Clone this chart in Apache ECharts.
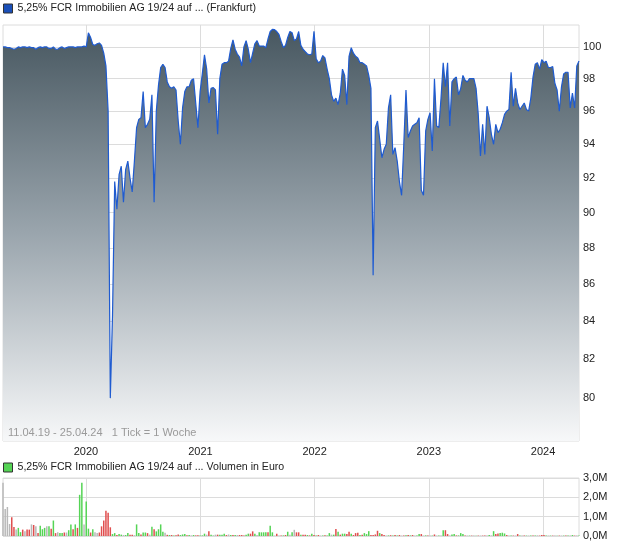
<!DOCTYPE html>
<html><head><meta charset="utf-8">
<script src="https://cdn.jsdelivr.net/npm/echarts@6/dist/echarts.min.js"></script>
<style>html,body{margin:0;padding:0;background:#fff}#c{width:620px;height:546px}</style>
</head><body><div id="c"></div>
<script>
const priceSeriesName = '5,25% FCR Immobilien AG 19/24 auf ... (Frankfurt)';
const volumeSeriesName = '5,25% FCR Immobilien AG 19/24 auf ... Volumen in Euro';
const noteText = '11.04.19 - 25.04.24   1 Tick = 1 Woche';
const startDate = [2019, 3, 11];
const endDate = [2024, 3, 25];
const yearTicks = [2020, 2021, 2022, 2023, 2024];
const priceTicks = [80, 82, 84, 86, 88, 90, 92, 94, 96, 98, 100];

// weekly closing prices
const prices = [
 100.0,100.0,99.95,99.95,99.9,99.85,99.9,100.0,99.95,100.0,
 100.0,99.95,100.0,99.95,99.95,99.85,99.95,100.0,99.95,100.0,
 100.0,99.9,99.9,100.0,99.85,99.85,99.95,100.0,99.9,99.95,
 100.0,100.0,100.0,99.95,100.0,100.0,100.0,100.05,
 100.0,100.9,100.6,100.15,100.1,100.2,100.25,100.1,99.6,98.8,96.0,80.0,84.3,
 91.8,90.2,92.2,92.7,90.6,92.5,93.0,92.0,91.2,93.0,
 95.0,95.5,95.6,97.2,95.0,95.2,95.5,97.0,90.6,96.0,
 97.6,98.7,98.9,98.7,97.8,97.5,97.4,97.5,97.3,95.4,
 94.0,96.2,97.2,97.5,97.5,97.9,98.0,96.5,95.0,97.2,
 98.3,99.5,98.6,96.5,97.4,97.45,97.3,94.6,98.0,98.9,
 99.0,99.0,99.1,99.9,100.45,99.85,99.55,99.35,98.8,100.0,
 100.4,99.85,99.0,99.6,100.2,100.4,100.05,100.05,100.05,99.95,
 100.5,100.98,101.12,101.1,100.98,100.8,100.35,99.96,100.1,100.6,
 100.98,100.9,100.4,100.5,100.98,100.1,99.85,99.7,99.55,99.5,
 99.55,101.0,99.25,99.0,99.1,99.45,99.3,98.6,98.0,97.0,
 96.6,96.8,96.4,97.1,98.6,98.2,96.4,99.4,99.95,99.6,
 99.4,99.3,99.0,99.0,98.9,98.8,98.2,97.4,86.5,95.0,
 95.4,94.3,93.2,93.7,94.0,96.2,97.0,93.4,93.8,93.0,
 91.8,91.0,94.0,97.3,94.4,94.8,95.1,95.2,95.3,95.6,
 91.3,91.0,94.8,95.5,95.9,93.6,98.0,95.1,95.0,96.8,
 99.0,97.5,99.0,95.1,97.8,98.0,98.1,97.0,97.4,98.2,
 97.9,97.8,98.0,98.0,98.0,97.4,95.8,93.3,95.2,93.4,
 96.3,95.6,94.6,94.0,95.2,94.7,94.9,95.3,95.8,96.0,
 96.1,98.4,96.3,97.4,96.5,96.1,96.3,96.5,96.1,96.0,
 96.8,98.1,98.9,99.0,98.6,99.2,99.0,99.1,98.7,98.7,
 98.75,97.7,97.3,96.0,97.5,98.3,98.4,98.4,96.2,97.1,
 96.2,98.8,99.1
];

// weekly volume, million EUR
const volumes = [
 2.75,1.4,1.5,0.62,0.97,0.47,0.33,0.42,0.2,0.33,
 0.24,0.33,0.33,0.6,0.57,0.5,0.15,0.53,0.35,0.42,
 0.5,0.5,0.38,0.8,0.15,0.2,0.15,0.15,0.18,0.18,
 0.3,0.6,0.35,0.6,0.42,2.13,2.75,0.6,1.78,0.38,
 0.18,0.35,0.2,0.15,0.18,0.5,0.8,1.3,1.2,0.45,
 0.1,0.15,0.05,0.1,0.07,0.05,0.05,0.15,0.06,0.06,
 0.04,0.6,0.15,0.08,0.18,0.18,0.15,0.07,0.48,0.35,
 0.24,0.35,0.6,0.22,0.17,0.06,0.05,0.05,0.03,0.04,
 0.08,0.05,0.08,0.1,0.04,0.05,0.03,0.05,0.03,0.04,
 0.02,0.03,0.12,0.07,0.24,0.07,0.02,0.07,0.07,0.07,
 0.07,0.12,0.05,0.08,0.05,0.05,0.05,0.05,0.05,0.05,
 0.03,0.07,0.12,0.12,0.24,0.12,0.05,0.19,0.19,0.19,
 0.19,0.19,0.53,0.19,0.02,0.12,0.03,0.02,0.03,0.05,
 0.22,0.07,0.19,0.32,0.19,0.19,0.07,0.07,0.07,0.05,
 0.03,0.12,0.05,0.03,0.05,0.02,0.03,0.04,0.03,0.15,
 0.07,0.07,0.36,0.22,0.07,0.12,0.12,0.1,0.22,0.12,
 0.05,0.15,0.17,0.05,0.07,0.15,0.1,0.25,0.05,0.05,
 0.08,0.27,0.15,0.1,0.05,0.02,0.03,0.04,0.03,0.05,
 0.03,0.05,0.02,0.03,0.04,0.05,0.03,0.05,0.02,0.02,
 0.1,0.1,0.02,0.03,0.02,0.03,0.02,0.08,0.02,0.03,
 0.02,0.3,0.3,0.1,0.03,0.08,0.1,0.03,0.03,0.15,
 0.1,0.03,0.02,0.02,0.02,0.02,0.01,0.02,0.02,0.02,
 0.03,0.02,0.05,0.03,0.25,0.1,0.13,0.15,0.17,0.13,
 0.05,0.02,0.03,0.02,0.02,0.1,0.02,0.03,0.02,0.02,
 0.02,0.03,0.02,0.02,0.03,0.02,0.05,0.05,0.02,0.02,
 0.02,0.02,0.02,0.01,0.02,0.02,0.02,0.02,0.02,0.02,
 0.05,0.02,0.02,0.03
];

// weekly direction: u = up, d = down, n = unchanged
const directions = [
 'n','n','n','n','d','d','n','u','u','d',
 'n','d','d','n','d','n','d','u','u','u',
 'n','u','d','u','d','n','u','u','d','n',
 'u','u','d','u','d','u','u','n','u','u',
 'd','u','n','n','d','d','d','d','d','d',
 'u','u','d','u','u','n','u','u','d','d',
 'n','u','u','d','u','u','d','n','u','d',
 'u','u','u','u','n','d','u','d','u','d',
 'd','u','u','u','d','u','n','u','d','d',
 'u','u','u','n','d','u','u','n','d','u',
 'u','u','d','n','u','d','u','n','d','d',
 'd','u','u','d','d','u','n','u','u','u',
 'u','d','u','u','n','d','n','d','u','d',
 'u','n','u','n','d','d','u','d','d','u',
 'd','u','d','u','d','n','u','d','u','u',
 'n','u','d','u','d','u','u','d','d','u',
 'd','d','d','u','d','u','u','u','d','d',
 'd','d','u','d','d','n','u','d','u','d',
 'u','d','n','d','u','d','u','d','n','u',
 'u','d','n','u','d','n','u','d','n','u',
 'n','u','d','d','n','u','u','d','u','u',
 'u','d','n','u','d','n','u','d','n','d',
 'd','n','u','n','u','d','d','u','u','u',
 'd','n','u','d','n','d','u','n','d','u',
 'n','u','d','u','n','d','d','d','u','n',
 'u','d','n','u','d','n','u','d','u','n',
 'u','d','n','u'
];

const DAY = 86400000;
const startTs = Date.UTC(startDate[0], startDate[1], startDate[2]);
const endTs = Date.UTC(endDate[0], endDate[1], endDate[2]);
const dates = prices.map((_, i) => startTs + i * 7 * DAY);
const yearTs = yearTicks.map(y => Date.UTC(y, 0, 1));
const dirColor = { u: '#55d455', d: '#e04e4e', n: '#b8b8b8' };
const FONT = '"Liberation Sans", Arial, sans-serif';
const gridColor = '#dcdcdc';

const chart = echarts.init(document.getElementById('c'));
chart.setOption({
  animation: false,
  textStyle: { fontFamily: FONT },
  legend: [
    { data: [priceSeriesName], left: 0, top: 0, padding: [3, 3, 3, 3], icon: 'rect',
      itemWidth: 9, itemHeight: 9, itemStyle: { borderColor: '#333', borderWidth: 1 },
      textStyle: { fontSize: 10.6, color: '#222', fontFamily: FONT } },
    { data: [volumeSeriesName], left: 0, top: 459, padding: [3, 3, 3, 3], icon: 'rect',
      itemWidth: 9, itemHeight: 9, itemStyle: { borderColor: '#333', borderWidth: 1 },
      textStyle: { fontSize: 10.6, color: '#222', fontFamily: FONT } }
  ],
  grid: [
    { left: 3, right: 41, top: 25, height: 416, show: true, borderColor: gridColor, borderWidth: 1 },
    { left: 3, right: 41, top: 478, height: 58, show: true, borderColor: gridColor, borderWidth: 1 }
  ],
  xAxis: [
    { type: 'value', gridIndex: 0, min: startTs, max: endTs, scale: true,
      axisLine: { show: false }, axisTick: { show: false, customValues: yearTs },
      axisLabel: { customValues: yearTs, formatter: v => String(new Date(v).getUTCFullYear()),
                   fontSize: 11, color: '#222', margin: 5, fontFamily: FONT },
      splitLine: { show: true, lineStyle: { color: gridColor, width: 1 } } },
    { type: 'value', gridIndex: 1, min: startTs, max: endTs, scale: true,
      axisLine: { show: false }, axisTick: { show: false, customValues: yearTs },
      axisLabel: { show: false, customValues: yearTs },
      splitLine: { show: true, lineStyle: { color: gridColor, width: 1 } } }
  ],
  yAxis: [
    { type: 'log', logBase: 10, gridIndex: 0, position: 'right', min: 77.85, max: 101.4,
      axisLine: { show: false }, axisTick: { show: false, customValues: priceTicks },
      axisLabel: { customValues: priceTicks, fontSize: 11, color: '#222', margin: 4, fontFamily: FONT },
      splitLine: { show: true, lineStyle: { color: gridColor, width: 1 } } },
    { type: 'value', gridIndex: 1, position: 'right', min: 0, max: 3, interval: 1,
      axisLine: { show: false }, axisTick: { show: false },
      axisLabel: { formatter: v => v.toFixed(1).replace('.', ',') + 'M', fontSize: 11, color: '#222', margin: 4, fontFamily: FONT },
      splitLine: { show: true, lineStyle: { color: gridColor, width: 1 } } }
  ],
  series: [
    { type: 'line', name: priceSeriesName, xAxisIndex: 0, yAxisIndex: 0,
      data: dates.map((d, i) => [d, prices[i]]),
      showSymbol: false, symbol: 'none',
      itemStyle: { color: '#1a4fb8' },
      lineStyle: { color: '#1f5bd0', width: 1.2 },
      areaStyle: { opacity: 1, color: new echarts.graphic.LinearGradient(0, 25, 0, 441, [
        { offset: 0, color: '#46565f' },
        { offset: 0.5, color: '#9aa5ad' },
        { offset: 1, color: '#f7f8f9' }
      ], true) } },
    { type: 'bar', name: volumeSeriesName, xAxisIndex: 1, yAxisIndex: 1, barWidth: 1.5,
      itemStyle: { color: '#55d455' },
      data: volumes.map((v, i) => ({ value: [dates[i], v], itemStyle: { color: dirColor[directions[i]] } })) }
  ],
  graphic: [
    { type: 'text', left: 8, top: 427, silent: true, z: 100,
      style: { text: noteText, fill: '#9a9a9a', fontSize: 11, fontFamily: FONT } }
  ]
});
</script>
</body></html>
